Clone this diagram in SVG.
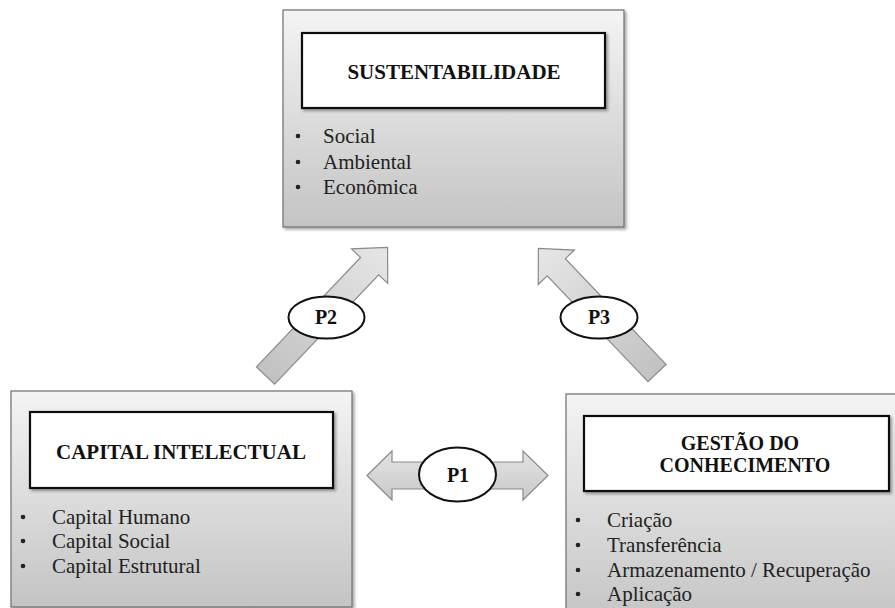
<svg xmlns="http://www.w3.org/2000/svg" width="895" height="608" viewBox="0 0 895 608" font-family="'Liberation Serif', 'DejaVu Serif', serif">
<style>
.box{fill:url(#boxg);stroke:#6e6e6e;stroke-width:1.2}
.inner{fill:#fff;stroke:#111;stroke-width:2.2}
text{font-family:'Liberation Serif','DejaVu Serif',serif}
.title{font-weight:bold;font-size:21px;fill:#111;text-anchor:middle}
.t2{font-size:20px}
.item{font-size:21px;fill:#222}
.arr{stroke:#8a8a8a;stroke-width:1.2;stroke-linejoin:miter}
.lab{fill:#fff;stroke:#111;stroke-width:2}
.pl{font-weight:bold;font-size:20px;fill:#111;text-anchor:middle}
.dot{fill:#222}
</style>
<defs>
<linearGradient id="boxg" x1="0" y1="0" x2="0" y2="1">
<stop offset="0" stop-color="#f4f4f4"/>
<stop offset="1" stop-color="#c4c4c4"/>
</linearGradient>
<linearGradient id="arrg" x1="0" y1="0" x2="1" y2="0">
<stop offset="0" stop-color="#c2c2c2"/>
<stop offset="1" stop-color="#e6e6e6"/>
</linearGradient>
<linearGradient id="arr1" x1="0" y1="0" x2="0" y2="1">
<stop offset="0" stop-color="#e4e4e4"/>
<stop offset="1" stop-color="#c8c8c8"/>
</linearGradient>
<filter id="sh" x="-5%" y="-5%" width="115%" height="115%">
<feDropShadow dx="2" dy="2" stdDeviation="1.5" flood-color="#000" flood-opacity="0.35"/>
</filter>
</defs>

<g id="connectors">
<g id="p2">
<polygon class="arr" fill="url(#arrg)" transform="translate(265.5,375.5) rotate(-46.4)" points="0,-12.5 151,-12.5 151,-25 177,0 151,25 151,12.5 0,12.5"/>
<ellipse class="lab" cx="326.5" cy="317.5" rx="38" ry="21"/>
<text class="pl" x="326" y="324">P2</text>
</g>
<g id="p3">
<polygon class="arr" fill="url(#arrg)" transform="translate(657,373) rotate(-133.6)" points="0,-12.5 146,-12.5 146,-25 172,0 146,25 146,12.5 0,12.5"/>
<ellipse class="lab" cx="599" cy="317.5" rx="38.5" ry="21"/>
<text class="pl" x="599" y="324">P3</text>
</g>
<g id="p1">
<polygon class="arr" fill="url(#arr1)" points="367,475.5 392,451 392,462 523,462 523,451 548,475.5 523,500 523,489 392,489 392,500"/>
<ellipse class="lab" cx="457.5" cy="474.5" rx="38.5" ry="27"/>
<text class="pl" x="458" y="482">P1</text>
</g>
</g>

<g id="sustentabilidade">
<rect class="box" x="283" y="10" width="341" height="217" filter="url(#sh)"/>
<rect class="inner" x="302" y="33" width="303" height="75" filter="url(#sh)"/>
<text class="title" x="454" y="79">SUSTENTABILIDADE</text>
<circle class="dot" cx="298" cy="136" r="2.3"/>
<text class="item" x="323" y="143">Social</text>
<circle class="dot" cx="298" cy="162" r="2.3"/>
<text class="item" x="323" y="169">Ambiental</text>
<circle class="dot" cx="298" cy="187" r="2.3"/>
<text class="item" x="323" y="194">Econômica</text>
</g>

<g id="capital">
<rect class="box" x="11" y="391" width="341" height="216" filter="url(#sh)"/>
<rect class="inner" x="30" y="412" width="303" height="76" filter="url(#sh)"/>
<text class="title" x="181" y="459">CAPITAL INTELECTUAL</text>
<circle class="dot" cx="23" cy="517" r="2.3"/>
<text class="item" x="52" y="524">Capital Humano</text>
<circle class="dot" cx="23" cy="541" r="2.3"/>
<text class="item" x="52" y="548">Capital Social</text>
<circle class="dot" cx="23" cy="566" r="2.3"/>
<text class="item" x="52" y="573">Capital Estrutural</text>
</g>

<g id="gestao">
<rect class="box" x="566" y="394" width="340" height="230" filter="url(#sh)"/>
<rect class="inner" x="584" y="416" width="305" height="75" filter="url(#sh)"/>
<text class="title t2" x="740" y="450">GESTÃO DO</text>
<text class="title t2" x="745" y="472">CONHECIMENTO</text>
<circle class="dot" cx="578" cy="520" r="2.3"/>
<text class="item" x="607" y="527">Criação</text>
<circle class="dot" cx="578" cy="545" r="2.3"/>
<text class="item" x="607" y="552">Transferência</text>
<circle class="dot" cx="578" cy="570" r="2.3"/>
<text class="item" x="607" y="577">Armazenamento / Recuperação</text>
<circle class="dot" cx="578" cy="594" r="2.3"/>
<text class="item" x="607" y="601">Aplicação</text>
</g>
</svg>
